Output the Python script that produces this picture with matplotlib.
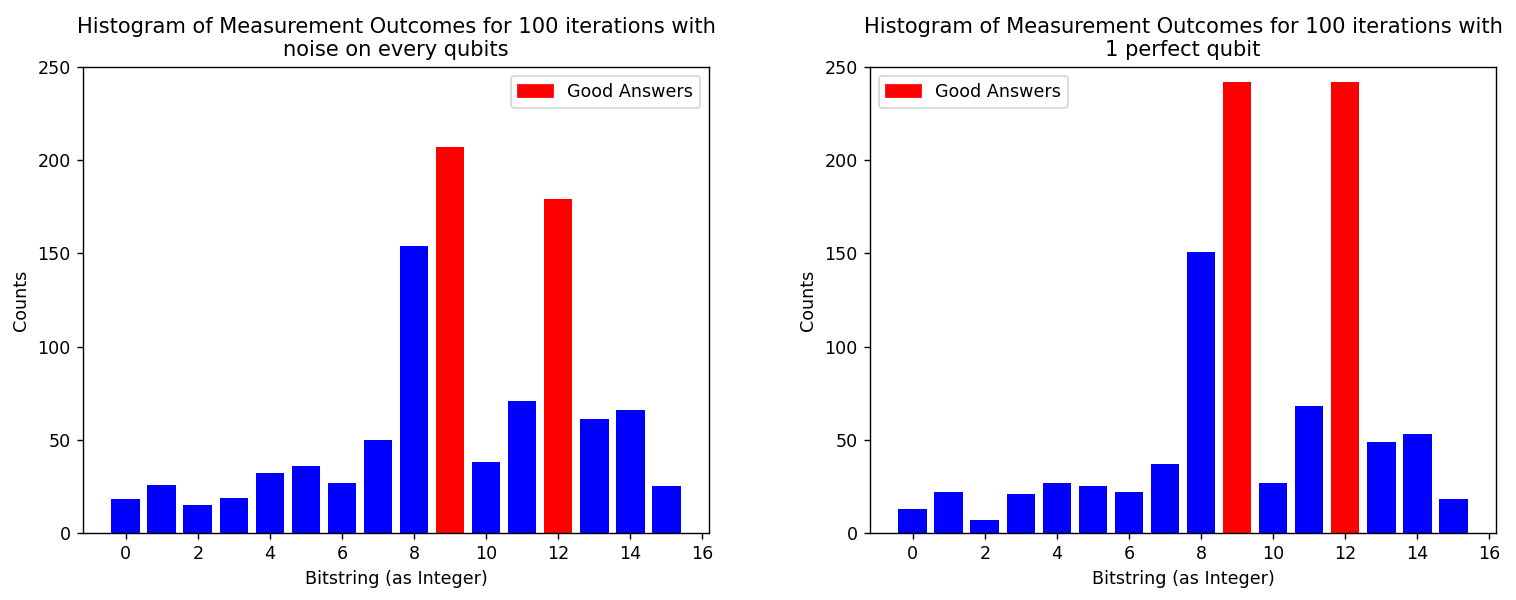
import matplotlib
matplotlib.use("Agg")
import matplotlib.pyplot as plt
from matplotlib.patches import Patch

bitstrings = list(range(16))
good_answers = [9, 12]
counts_noisy = [18, 26, 15, 19, 32, 36, 27, 50, 154, 207, 38, 71, 179, 61, 66, 25]
counts_perfect = [13, 22, 7, 21, 27, 25, 22, 37, 151, 242, 27, 68, 242, 49, 53, 18]
titles = ["Histogram of Measurement Outcomes for 100 iterations with\nnoise on every qubits",
          "Histogram of Measurement Outcomes for 100 iterations with\n1 perfect qubit"]

DPI = 126
fig = plt.figure(figsize=(1516/DPI, 600/DPI), dpi=DPI)
ax1 = fig.add_axes([83/1516, 1-533/600, (709-83)/1516, (533-67)/600])
ax2 = fig.add_axes([870/1516, 1-533/600, (1496-870)/1516, (533-67)/600])

for ax, counts, title, loc in [(ax1, counts_noisy, titles[0], 'upper right'),
                               (ax2, counts_perfect, titles[1], 'upper left')]:
    colors = ['red' if b in good_answers else 'blue' for b in bitstrings]
    ax.bar(bitstrings, counts, color=colors)
    ax.set_ylim(0, 250)
    ax.set_title(title, fontsize=12)
    ax.set_xlabel("Bitstring (as Integer)")
    ax.set_ylabel("Counts")
    ax.legend(handles=[Patch(color='red', label='Good Answers')], loc=loc)

fig.savefig("out.png", dpi=DPI)
